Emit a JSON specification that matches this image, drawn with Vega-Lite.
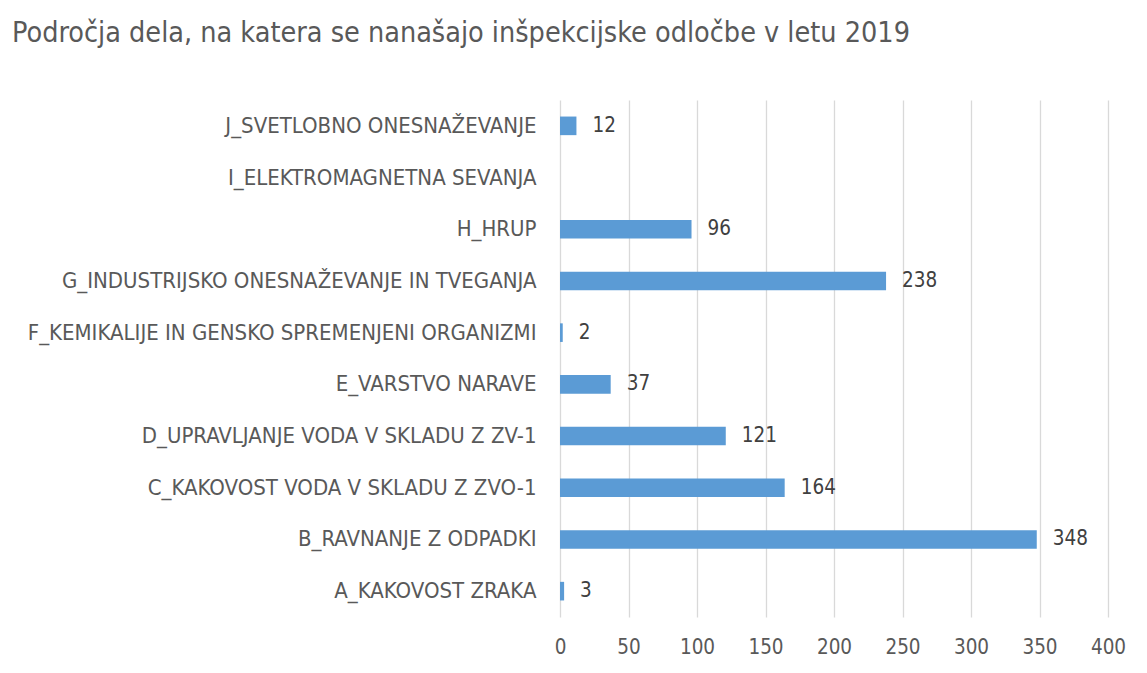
{
  "$schema": "https://vega.github.io/schema/vega-lite/v6.json",
  "width": 548,
  "height": 517,
  "autosize": {"type": "none"},
  "padding": {"left": 560, "top": 100, "right": 39, "bottom": 56},
  "background": "white",
  "title": {
    "text": "Področja dela, na katera se nanašajo inšpekcijske odločbe v letu 2019",
    "anchor": "start",
    "frame": "group",
    "dx": -548,
    "dy": -20,
    "font": "DejaVu Sans Condensed, Liberation Sans",
    "fontSize": 28.5,
    "fontWeight": "normal",
    "color": "#595959",
    "baseline": "bottom"
  },
  "config": {
    "view": {"stroke": null},
    "font": "DejaVu Sans Condensed, Liberation Sans"
  },
  "data": {
    "values": [
      {"podrocje": "A_KAKOVOST ZRAKA", "stevilo": 3},
      {"podrocje": "B_RAVNANJE Z ODPADKI", "stevilo": 348},
      {"podrocje": "C_KAKOVOST VODA V SKLADU Z ZVO-1", "stevilo": 164},
      {"podrocje": "D_UPRAVLJANJE VODA V SKLADU Z ZV-1", "stevilo": 121},
      {"podrocje": "E_VARSTVO NARAVE", "stevilo": 37},
      {"podrocje": "F_KEMIKALIJE IN GENSKO SPREMENJENI ORGANIZMI", "stevilo": 2},
      {"podrocje": "G_INDUSTRIJSKO ONESNAŽEVANJE IN TVEGANJA", "stevilo": 238},
      {"podrocje": "H_HRUP", "stevilo": 96},
      {"podrocje": "I_ELEKTROMAGNETNA SEVANJA", "stevilo": 0},
      {"podrocje": "J_SVETLOBNO ONESNAŽEVANJE", "stevilo": 12}
    ]
  },
  "encoding": {
    "y": {
      "field": "podrocje",
      "type": "nominal",
      "sort": "descending",
      "scale": {"paddingInner": 0.64, "paddingOuter": 0.32},
      "axis": {
        "title": null,
        "ticks": false,
        "domain": false,
        "labelPadding": 24,
        "labelFontSize": 22,
        "labelColor": "#595959",
        "labelLimit": 600
      }
    },
    "x": {
      "field": "stevilo",
      "type": "quantitative",
      "scale": {"domain": [0, 400], "nice": false},
      "axis": {
        "title": null,
        "values": [0, 50, 100, 150, 200, 250, 300, 350, 400],
        "ticks": false,
        "domain": false,
        "grid": true,
        "gridColor": "#d9d9d9",
        "gridWidth": 1.3,
        "labelFlush": false,
        "labelPadding": 20,
        "labelFontSize": 20.5,
        "labelColor": "#595959"
      }
    }
  },
  "layer": [
    {
      "mark": {"type": "bar", "color": "#5b9bd5"}
    },
    {
      "transform": [{"filter": "datum.stevilo > 0"}],
      "mark": {"type": "text", "align": "left", "dx": 16, "fontSize": 20.5, "color": "#404040"},
      "encoding": {"text": {"field": "stevilo", "type": "quantitative"}}
    }
  ]
}
